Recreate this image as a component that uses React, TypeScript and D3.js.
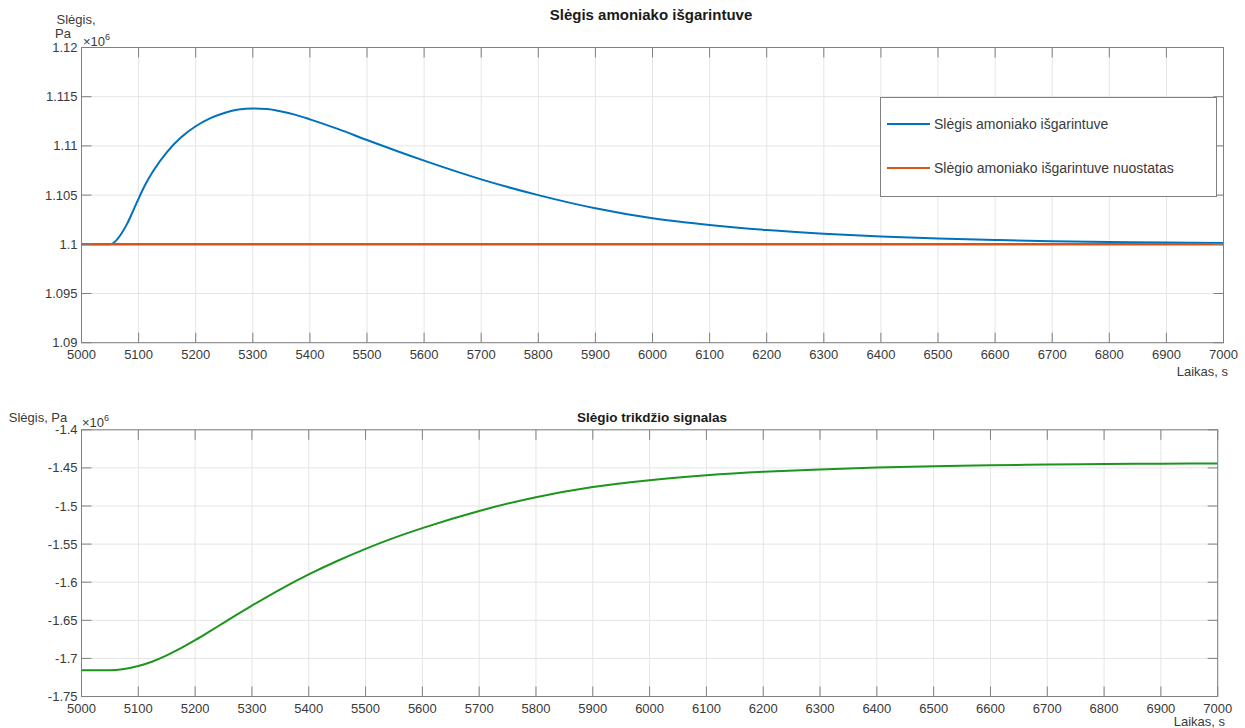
import React from "react";
import * as d3 from "d3";

// ---------- DATA ----------
const xTicks = [5000, 5100, 5200, 5300, 5400, 5500, 5600, 5700, 5800, 5900, 6000, 6100, 6200, 6300, 6400, 6500, 6600, 6700, 6800, 6900, 7000];

const topYTicks = [1.09, 1.095, 1.1, 1.105, 1.11, 1.115, 1.12];
const topYTickLabels = ["1.09", "1.095", "1.1", "1.105", "1.11", "1.115", "1.12"];

const botYTicks = [-1.75, -1.7, -1.65, -1.6, -1.55, -1.5, -1.45, -1.4];
const botYTickLabels = ["-1.75", "-1.7", "-1.65", "-1.6", "-1.55", "-1.5", "-1.45", "-1.4"];

const pressureTime = [5000, 5050, 5060, 5070, 5080, 5090, 5100, 5112, 5125, 5150, 5175, 5200, 5225, 5250, 5275, 5300, 5325, 5350, 5375, 5400, 5450, 5500, 5600, 5700, 5800, 5900, 6000, 6100, 6200, 6300, 6400, 6500, 6600, 6700, 6800, 6900, 7000];
const pressureValues = [1.1, 1.1, 1.10035, 1.1011, 1.1021, 1.10335, 1.10465, 1.1061, 1.1074, 1.1094, 1.1109, 1.112, 1.1128, 1.11335, 1.1137, 1.1138, 1.11375, 1.1135, 1.11315, 1.1127, 1.1117, 1.1106, 1.1085, 1.1066, 1.105, 1.10366, 1.10264, 1.10196, 1.10145, 1.10108, 1.1008, 1.10059, 1.10044, 1.10032, 1.10024, 1.10018, 1.10013];

const setpointTime = [5000, 7000];
const setpointValues = [1.1, 1.1];

const disturbTime = [5000, 5050, 5075, 5100, 5125, 5150, 5175, 5200, 5225, 5250, 5275, 5300, 5350, 5400, 5450, 5500, 5550, 5600, 5700, 5800, 5900, 6000, 6100, 6200, 6300, 6400, 6500, 6600, 6700, 6800, 6900, 7000];
const disturbValues = [-1.7157, -1.7157, -1.714, -1.71, -1.704, -1.696, -1.6865, -1.676, -1.6648, -1.6533, -1.6418, -1.6307, -1.6093, -1.5898, -1.5722, -1.5562, -1.5418, -1.529, -1.5065, -1.4885, -1.4752, -1.4662, -1.4598, -1.4552, -1.452, -1.4496, -1.4478, -1.4466, -1.4457, -1.445, -1.4445, -1.4441];

const topTitle = "Slėgis amoniako išgarintuve";
const botTitle = "Slėgio trikdžio signalas";
const legendLabels = ["Slėgis amoniako išgarintuve", "Slėgio amoniako išgarintuve nuostatas"];
const xLabel = "Laikas, s";

// ---------- STYLE ----------
const FONT = "'Liberation Sans', Arial, Helvetica, sans-serif";
const AXIS = "#808080";
const TXT = "#3a3a3a";
const GRID = "#e5e5e5";
const BLUE = "#0072BD";
const ORANGE = "#D95319";
const GREEN = "#1d951d";

type PanelProps = {
  left: number; right: number; top: number; bottom: number;
  yDomain: [number, number];
  yTicks: number[]; yLabels: string[];
  children: (x: d3.ScaleLinear<number, number>, y: d3.ScaleLinear<number, number>) => React.ReactNode;
};

function Panel({ left, right, top, bottom, yDomain, yTicks, yLabels, children }: PanelProps) {
  const x = d3.scaleLinear().domain([5000, 7000]).range([left, right]);
  const y = d3.scaleLinear().domain(yDomain).range([bottom, top]);
  const tl = 10;
  return (
    <g>
      {xTicks.map((t) => (
        <line key={"gx" + t} x1={x(t)} x2={x(t)} y1={top} y2={bottom} stroke={GRID} strokeWidth={1} />
      ))}
      {yTicks.map((t) => (
        <line key={"gy" + t} x1={left} x2={right} y1={y(t)} y2={y(t)} stroke={GRID} strokeWidth={1} />
      ))}
      {children(x, y)}
      <rect x={left} y={top} width={right - left} height={bottom - top} fill="none" stroke={AXIS} strokeWidth={1} />
      {xTicks.map((t) => (
        <g key={"tx" + t}>
          <line x1={x(t)} x2={x(t)} y1={bottom} y2={bottom - tl} stroke={AXIS} />
          <line x1={x(t)} x2={x(t)} y1={top} y2={top + tl} stroke={AXIS} />
          <text x={x(t)} y={bottom + 16} textAnchor="middle" fontSize={13} fill={TXT} fontFamily={FONT}>{t}</text>
        </g>
      ))}
      {yTicks.map((t, i) => (
        <g key={"ty" + t}>
          <line x1={left} x2={left + tl} y1={y(t)} y2={y(t)} stroke={AXIS} />
          <line x1={right} x2={right - tl} y1={y(t)} y2={y(t)} stroke={AXIS} />
          <text x={left - 4} y={y(t) + 4.5} textAnchor="end" fontSize={13} fill={TXT} fontFamily={FONT}>{yLabels[i]}</text>
        </g>
      ))}
    </g>
  );
}

function mkLine(x: d3.ScaleLinear<number, number>, y: d3.ScaleLinear<number, number>, ts: number[], vs: number[]) {
  const pts: [number, number][] = ts.map((t, i) => [t, vs[i]]);
  return d3.line<[number, number]>().x((d) => x(d[0])).y((d) => y(d[1])).curve(d3.curveMonotoneX)(pts) || "";
}

export default function App() {
  return (
    <svg width={1245} height={728} style={{ position: "absolute", left: 0, top: 0, background: "#fff" }} fontFamily={FONT}>
      <rect x={0} y={0} width={1245} height={728} fill="#fff" />
      {/* Top panel */}
      <text x={651} y={20} textAnchor="middle" fontSize={15} fontWeight="bold" fill="#1a1a1a">{topTitle}</text>
      <text x={76} y={24} textAnchor="middle" fontSize={13} fill={TXT}>Slėgis,</text>
      <text x={63} y={38} textAnchor="middle" fontSize={13} fill={TXT}>Pa</text>
      <text x={83} y={46} fontSize={13} fill={TXT}>
        <tspan>×10</tspan><tspan dy={-6} fontSize={9}>6</tspan>
      </text>
      <Panel left={81.5} right={1223.5} top={47.5} bottom={342.7} yDomain={[1.09, 1.12]} yTicks={topYTicks} yLabels={topYTickLabels}>
        {(x, y) => (
          <g>
            <path d={mkLine(x, y, pressureTime, pressureValues)} fill="none" stroke={BLUE} strokeWidth={2} />
            <path d={mkLine(x, y, setpointTime, setpointValues)} fill="none" stroke={ORANGE} strokeWidth={2.5} />
          </g>
        )}
      </Panel>
      <text x={1228} y={376} textAnchor="end" fontSize={13} fill={TXT}>{xLabel}</text>
      {/* Legend */}
      <g>
        <rect x={880.5} y={97.5} width={336} height={99} fill="#fff" stroke={AXIS} strokeWidth={1} />
        <line x1={887} x2={930} y1={124} y2={124} stroke={BLUE} strokeWidth={2} />
        <text x={934} y={129} fontSize={14} fill={TXT}>{legendLabels[0]}</text>
        <line x1={887} x2={930} y1={168} y2={168} stroke={ORANGE} strokeWidth={2} />
        <text x={934} y={173} fontSize={14} fill={TXT}>{legendLabels[1]}</text>
      </g>

      {/* Bottom panel */}
      <text x={652} y={422} textAnchor="middle" fontSize={13.5} fontWeight="bold" fill="#1a1a1a">{botTitle}</text>
      <text x={38} y={422} textAnchor="middle" fontSize={13} fill={TXT}>Slėgis, Pa</text>
      <text x={82} y={427} fontSize={13} fill={TXT}>
        <tspan>×10</tspan><tspan dy={-6} fontSize={9}>6</tspan>
      </text>
      <Panel left={81.5} right={1217.7} top={429.8} bottom={696.5} yDomain={[-1.75, -1.4]} yTicks={botYTicks} yLabels={botYTickLabels}>
        {(x, y) => (
          <path d={mkLine(x, y, disturbTime, disturbValues)} fill="none" stroke={GREEN} strokeWidth={2} />
        )}
      </Panel>
      <text x={1225} y={726} textAnchor="end" fontSize={13} fill={TXT}>{xLabel}</text>
    </svg>
  );
}
